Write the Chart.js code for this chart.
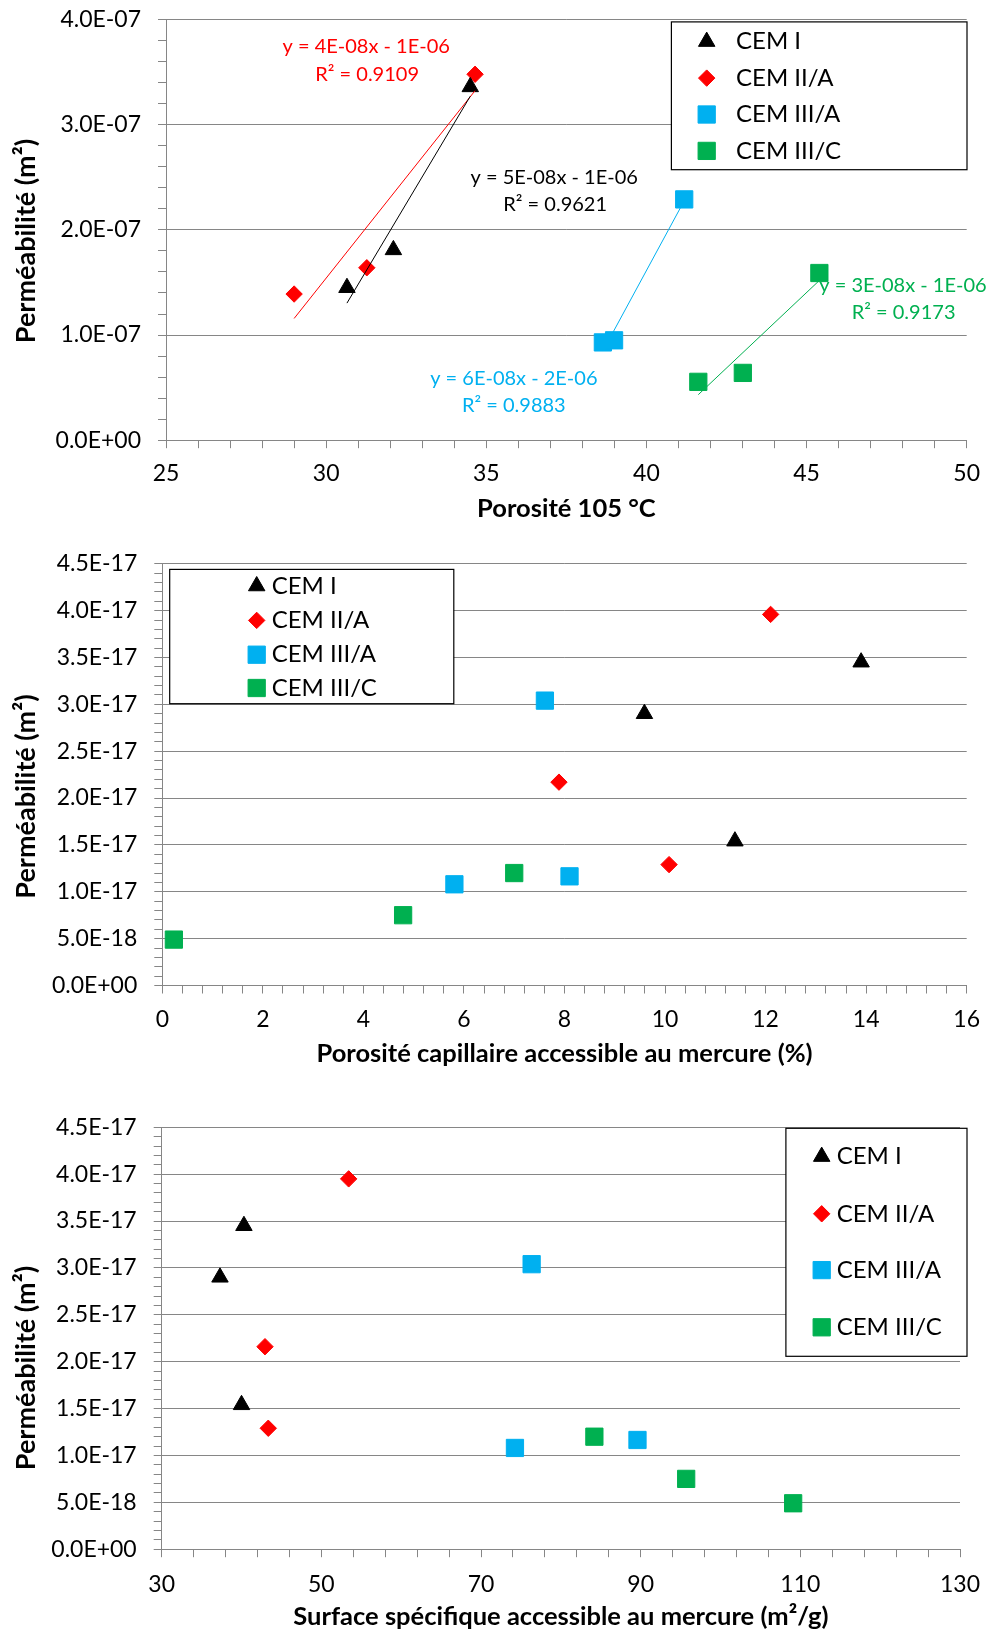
<!DOCTYPE html>
<html><head><meta charset="utf-8">
<script src="https://cdn.jsdelivr.net/npm/chart.js@4.4.1/dist/chart.umd.min.js"></script>
<style>
html,body{margin:0;padding:0;background:#fff;}
body{width:992px;height:1633px;position:relative;overflow:hidden;}
canvas{position:absolute;left:0;}
</style></head><body>
<canvas id="c1" width="992" height="530" style="top:0px"></canvas>
<canvas id="c2" width="992" height="560" style="top:530px"></canvas>
<canvas id="c3" width="992" height="543" style="top:1090px"></canvas>
<script>
// ---------------- DATA ----------------
const seriesNames = ['CEM I', 'CEM II/A', 'CEM III/A', 'CEM III/C'];

// Chart 1 : Porosité 105 °C (x) vs perméabilité (m²)
const poro105_CEMI    = [30.65, 32.10, 34.50];
const perm105_CEMI    = [1.45e-7, 1.81e-7, 3.36e-7];
const poro105_CEMIIA  = [29.00, 31.27, 34.65];
const perm105_CEMIIA  = [1.39e-7, 1.64e-7, 3.48e-7];
const poro105_CEMIIIA = [38.64, 38.99, 41.18];
const perm105_CEMIIIA = [0.93e-7, 0.95e-7, 2.29e-7];
const poro105_CEMIIIC = [41.62, 43.01, 45.40];
const perm105_CEMIIIC = [0.555e-7, 0.64e-7, 1.59e-7];
const trendEquations1 = ['y = 5E-08x - 1E-06', 'y = 4E-08x - 1E-06', 'y = 6E-08x - 2E-06', 'y = 3E-08x - 1E-06'];
const trendR2_1       = ['R² = 0.9621', 'R² = 0.9109', 'R² = 0.9883', 'R² = 0.9173'];

// Charts 2 & 3 : perméabilité (m²)
const perm_CEMI    = [2.90e-17, 1.54e-17, 3.45e-17];
const perm_CEMIIA  = [2.17e-17, 1.29e-17, 3.96e-17];
const perm3_CEMIIA = [2.16e-17, 1.29e-17, 3.95e-17];
const perm_CEMIIIA = [1.08e-17, 3.04e-17, 1.165e-17];
const perm_CEMIIIC = [0.49e-17, 0.75e-17, 1.20e-17];
// Chart 2 : porosité capillaire accessible au mercure (%)
const poroHg_CEMI    = [9.59, 11.39, 13.90];
const poroHg_CEMIIA  = [7.89, 10.08, 12.10];
const poroHg_CEMIIIA = [5.81, 7.61, 8.10];
const poroHg_CEMIIIC = [0.23, 4.79, 7.00];
// Chart 3 : surface spécifique accessible au mercure (m²/g)
const surfHg_CEMI    = [37.3, 40.0, 40.3];
const surfHg_CEMIIA  = [42.94, 43.35, 53.42];
const surfHg_CEMIIIA = [74.25, 76.34, 89.6];
const surfHg_CEMIIIC = [109.1, 95.7, 84.2];

// tick labels
const xTicks1 = ['25', '30', '35', '40', '45', '50'];
const yTicks1 = ['0.0E+00', '1.0E-07', '2.0E-07', '3.0E-07', '4.0E-07'];
const xTicks2 = ['0', '2', '4', '6', '8', '10', '12', '14', '16'];
const yTicks23 = ['0.0E+00', '5.0E-18', '1.0E-17', '1.5E-17', '2.0E-17', '2.5E-17', '3.0E-17', '3.5E-17', '4.0E-17', '4.5E-17'];
const xTicks3 = ['30', '50', '70', '90', '110', '130'];

const xTitle1 = 'Porosité 105 °C';
const xTitle2 = 'Porosité capillaire accessible au mercure (%)';
const xTitle3 = 'Surface spécifique accessible au mercure (m²/g)';
const yTitle  = 'Perméabilité (m²)';

// ---------------- STYLE ----------------
const FONT = 'Lato, "Open Sans", sans-serif';
Chart.defaults.font.family = FONT;
Chart.defaults.color = '#000';
const GRID = '#868686';
const styles = [
  {shape: 'triangle', color: '#000000', r: 9.5},
  {shape: 'rectRot',  color: '#FF0000', r: 8.2},
  {shape: 'rect',     color: '#00B0F0', r: 12.2},
  {shape: 'rect',     color: '#00B050', r: 12.2}
];
const TICK_SIZE = 23, XTITLE_SIZE = 25.5, YTITLE_SIZE = 27, LEG_SIZE = 24, EQ_SIZE = 20;

function isMajor(v, min, major) { const k = (v - min) / major; return Math.abs(k - Math.round(k)) < 1e-6; }

function axis(o) {
  return {
    type: 'linear', position: o.isX ? 'bottom' : 'left', min: o.min, max: o.max,
    afterBuildTicks: s => {
      const n = Math.round((o.max - o.min) / o.minor);
      s.ticks = Array.from({length: n + 1}, (_, i) => ({value: o.min + i * o.minor}));
    },
    afterFit: s => {
      if (o.isX) s.height = o.fit; else s.width = o.fit;
      s.paddingTop = 0; s.paddingBottom = 0; s.paddingLeft = 0; s.paddingRight = 0;
    },
    ticks: {
      autoSkip: false, maxRotation: 0, minRotation: 0, padding: o.pad,
      font: {size: TICK_SIZE}, color: '#000',
      callback: v => isMajor(v, o.min, o.major) ? o.labels[Math.round((v - o.min) / o.major)] : ''
    },
    grid: {
      drawOnChartArea: !o.isX, drawTicks: true, tickLength: 8, lineWidth: 1,
      color: c => (c.tick && isMajor(c.tick.value, o.min, o.major)) ? GRID : 'rgba(0,0,0,0)',
      tickColor: GRID
    },
    border: {display: true, color: GRID, width: 1},
    title: {display: o.isX, text: o.title, font: {size: XTITLE_SIZE, weight: 'bold'}, color: '#000',
            padding: {top: 0, bottom: o.titlePad || 0}}
  };
}

function scatterDs(i, xs, ys) {
  const st = styles[i];
  return {label: seriesNames[i], data: xs.map((x, k) => ({x, y: ys[k]})), showLine: false,
    pointStyle: st.shape, pointRadius: st.r, pointHoverRadius: st.r,
    pointBackgroundColor: st.color, pointBorderColor: st.color, pointBorderWidth: 1, order: 2};
}
// linear least-squares trendline over the series' x range (as the spreadsheet trendline)
function trendDs(i, xs, ys) {
  const n = xs.length, mx = xs.reduce((a, b) => a + b, 0) / n, my = ys.reduce((a, b) => a + b, 0) / n;
  let sxx = 0, sxy = 0;
  xs.forEach((x, k) => { sxx += (x - mx) * (x - mx); sxy += (x - mx) * (ys[k] - my); });
  const slope = sxy / sxx, icpt = my - slope * mx;
  const x0 = Math.min(...xs), x1 = Math.max(...xs);
  return {label: '', isTrend: true, data: [{x: x0, y: icpt + slope * x0}, {x: x1, y: icpt + slope * x1}],
    showLine: true, borderColor: styles[i].color, borderWidth: 1, pointRadius: 0, pointHoverRadius: 0, order: 1};
}

function drawMarker(ctx, shape, r, x, y) {
  ctx.beginPath();
  if (shape === 'triangle') {
    let rad = 0;
    ctx.moveTo(x + Math.sin(rad) * r, y - Math.cos(rad) * r); rad += 2 * Math.PI / 3;
    ctx.lineTo(x + Math.sin(rad) * r, y - Math.cos(rad) * r); rad += 2 * Math.PI / 3;
    ctx.lineTo(x + Math.sin(rad) * r, y - Math.cos(rad) * r);
  } else if (shape === 'rectRot') {
    ctx.moveTo(x - r, y); ctx.lineTo(x, y - r); ctx.lineTo(x + r, y); ctx.lineTo(x, y + r);
  } else {
    const s = Math.SQRT1_2 * r; ctx.rect(x - s, y - s, 2 * s, 2 * s);
  }
  ctx.closePath(); ctx.fill(); ctx.stroke();
}

// plugin: boxed legend, equation labels, rotated y title
const extras = {
  id: 'extras',
  afterDraw(chart, args, opts) {
    const ctx = chart.ctx;
    ctx.save();
    if (opts.yTitle) {
      ctx.save();
      ctx.translate(opts.yTitle.x, opts.yTitle.y);
      ctx.rotate(-Math.PI / 2);
      ctx.font = 'bold ' + YTITLE_SIZE + 'px ' + FONT;
      ctx.fillStyle = '#000'; ctx.textAlign = 'center'; ctx.textBaseline = 'middle';
      ctx.fillText(opts.yTitle.text, 0, 0);
      ctx.restore();
    }
    if (opts.eq) {
      ctx.font = EQ_SIZE + 'px ' + FONT; ctx.textAlign = 'center'; ctx.textBaseline = 'middle';
      opts.eq.forEach(e => {
        ctx.fillStyle = e.color;
        ctx.fillText(e.text, chart.scales.x.getPixelForValue(e.x), chart.scales.y.getPixelForValue(e.y));
      });
    }
    const L = opts.legend;
    if (L) {
      ctx.fillStyle = '#fff'; ctx.fillRect(L.x1, L.y1, L.x2 - L.x1, L.y2 - L.y1);
      ctx.strokeStyle = '#000'; ctx.lineWidth = 1.2; ctx.strokeRect(L.x1, L.y1, L.x2 - L.x1, L.y2 - L.y1);
      const items = chart.data.datasets.filter(d => !d.isTrend);
      ctx.font = LEG_SIZE + 'px ' + FONT; ctx.textAlign = 'left'; ctx.textBaseline = 'middle';
      items.forEach((d, k) => {
        const y = L.rows[k];
        ctx.fillStyle = d.pointBackgroundColor; ctx.strokeStyle = d.pointBorderColor; ctx.lineWidth = 1;
        drawMarker(ctx, d.pointStyle, d.pointRadius, L.mx, y);
        ctx.fillStyle = '#000';
        ctx.fillText(d.label, L.tx, y);
      });
    }
    ctx.restore();
  }
};

function makeChart(id, datasets, xo, yo, pad, plug) {
  return new Chart(document.getElementById(id), {
    type: 'scatter',
    data: {datasets},
    options: {
      responsive: false, animation: false, devicePixelRatio: 1,
      layout: {padding: pad},
      scales: {x: axis(Object.assign({isX: true}, xo)), y: axis(Object.assign({isX: false}, yo))},
      plugins: {legend: {display: false}, tooltip: {enabled: false}, extras: plug}
    },
    plugins: [extras]
  });
}

// ---- Chart 1 ----
makeChart('c1', [
  trendDs(0, poro105_CEMI, perm105_CEMI),
  trendDs(1, poro105_CEMIIA, perm105_CEMIIA),
  trendDs(2, poro105_CEMIIIA, perm105_CEMIIIA),
  trendDs(3, poro105_CEMIIIC, perm105_CEMIIIC),
  scatterDs(0, poro105_CEMI, perm105_CEMI),
  scatterDs(1, poro105_CEMIIA, perm105_CEMIIA),
  scatterDs(2, poro105_CEMIIIA, perm105_CEMIIIA),
  scatterDs(3, poro105_CEMIIIC, perm105_CEMIIIC)
],
{min: 25, max: 50, minor: 1, major: 5, labels: xTicks1, fit: 89.8, pad: 12, title: xTitle1, titlePad: 5.5},
{min: 0, max: 4e-7, minor: 2e-8, major: 1e-7, labels: yTicks1, fit: 166, pad: 17, title: yTitle},
{top: 19.6, right: 25.3, left: 0, bottom: 0},
{
  yTitle: {text: yTitle, x: 26, y: 241},
  eq: [
    {text: trendEquations1[1], x: 31.25, y: 3.74e-7, color: '#FF0000'},
    {text: trendR2_1[1],       x: 31.28, y: 3.48e-7, color: '#FF0000'},
    {text: trendEquations1[0], x: 37.12, y: 2.50e-7, color: '#000000'},
    {text: trendR2_1[0],       x: 37.15, y: 2.24e-7, color: '#000000'},
    {text: trendEquations1[2], x: 35.86, y: 0.59e-7, color: '#00B0F0'},
    {text: trendR2_1[2],       x: 35.86, y: 0.33e-7, color: '#00B0F0'},
    {text: trendEquations1[3], x: 48.01, y: 1.47e-7, color: '#00B050'},
    {text: trendR2_1[3],       x: 48.03, y: 1.21e-7, color: '#00B050'}
  ],
  legend: {x1: 671.4, y1: 21.9, x2: 967, y2: 169.7, mx: 706.7, tx: 736, rows: [41.6, 78.1, 114.5, 150.9]}
});

// ---- Chart 2 ----
makeChart('c2', [
  scatterDs(0, poroHg_CEMI, perm_CEMI),
  scatterDs(1, poroHg_CEMIIA, perm_CEMIIA),
  scatterDs(2, poroHg_CEMIIIA, perm_CEMIIIA),
  scatterDs(3, poroHg_CEMIIIC, perm_CEMIIIC)
],
{min: 0, max: 16, minor: 0.4, major: 2, labels: xTicks2, fit: 104.5, pad: 12, title: xTitle2, titlePad: 20.5},
{min: 0, max: 4.5e-17, minor: 1e-18, major: 5e-18, labels: yTicks23, fit: 162.3, pad: 17, title: yTitle},
{top: 33.8, right: 25.3, left: 0, bottom: 0},
{
  yTitle: {text: yTitle, x: 26, y: 266.5},
  legend: {x1: 169.7, y1: 39.4, x2: 453.8, y2: 173.7, mx: 256.7, tx: 271.7, rows: [56, 90.4, 124.7, 158]}
});

// ---- Chart 3 ----
makeChart('c3', [
  scatterDs(0, surfHg_CEMI, perm_CEMI),
  scatterDs(1, surfHg_CEMIIA, perm3_CEMIIA),
  scatterDs(2, surfHg_CEMIIIA, perm_CEMIIIA),
  scatterDs(3, surfHg_CEMIIIC, perm_CEMIIIC)
],
{min: 30, max: 130, minor: 4, major: 20, labels: xTicks3, fit: 83.8, pad: 14, title: xTitle3, titlePad: 1},
{min: 0, max: 4.5e-17, minor: 1e-18, major: 5e-18, labels: yTicks23, fit: 161.7, pad: 17, title: yTitle},
{top: 37.3, right: 32, left: 0, bottom: 0},
{
  yTitle: {text: yTitle, x: 26, y: 278},
  legend: {x1: 785.9, y1: 38.3, x2: 967, y2: 266.3, mx: 821.7, tx: 836.7, rows: [66.6, 123.8, 180.1, 237.3]}
});
</script>
</body></html>
